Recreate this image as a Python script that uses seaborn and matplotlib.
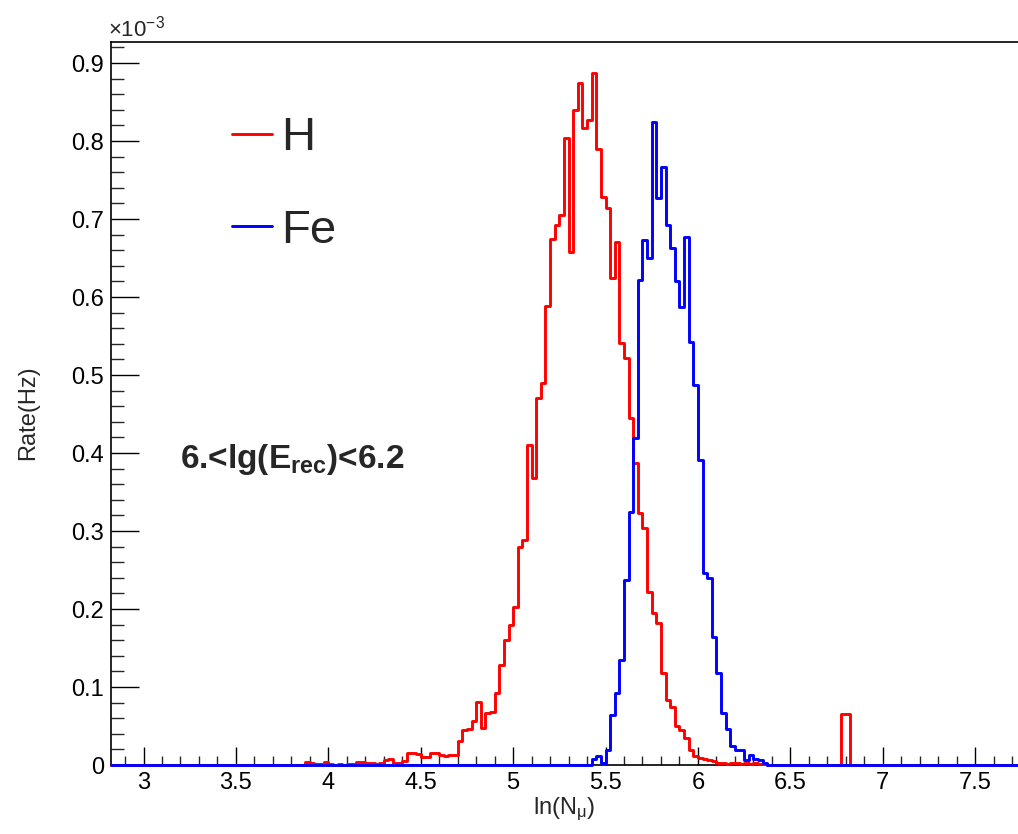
import numpy as np
import pandas as pd
import matplotlib
matplotlib.use("Agg")
import matplotlib.pyplot as plt
import seaborn as sns
from matplotlib.ticker import MultipleLocator, FuncFormatter

# ---------------- data (rates in units of 1e-3 Hz, bins of 0.025 in ln(N_mu)) ----------------
bin_width = 0.025
hist_lo, hist_hi = 2.825, 7.775

h_first_bin = 3.875
h_rates = [
    0.004, 0.003, 0.001, 0.001, 0.004, 0.001, 0.000, 0.001, 0.000, 0.001,   # 3.875 -
    0.001, 0.004, 0.004, 0.003, 0.002, 0.001, 0.002, 0.006, 0.008, 0.002,   # 4.125 -
    0.003, 0.005, 0.015, 0.015, 0.014, 0.010, 0.010, 0.016, 0.016, 0.013,   # 4.375 -
    0.012, 0.013, 0.013, 0.031, 0.045, 0.046, 0.056, 0.081, 0.048, 0.067,   # 4.625 -
    0.068, 0.092, 0.128, 0.160, 0.179, 0.203, 0.280, 0.288, 0.410, 0.368,   # 4.875 -
    0.470, 0.490, 0.588, 0.675, 0.692, 0.705, 0.804, 0.658, 0.840, 0.874,   # 5.125 -
    0.817, 0.827, 0.887, 0.790, 0.728, 0.714, 0.624, 0.670, 0.541, 0.522,   # 5.375 -
    0.445, 0.387, 0.323, 0.304, 0.222, 0.195, 0.182, 0.118, 0.083, 0.075,   # 5.625 -
    0.050, 0.045, 0.034, 0.019, 0.012, 0.009, 0.008, 0.006, 0.005, 0.002,   # 5.875 -
    0.002, 0.001, 0.002, 0.002, 0.001, 0.002, 0.001, 0.002, 0.001, 0.001,   # 6.125 -
    0.000, 0.000, 0.000, 0.000, 0.000, 0.000, 0.000, 0.000, 0.000, 0.000,   # 6.375 -
    0.000, 0.000, 0.000, 0.000, 0.000, 0.000, 0.066, 0.066,                 # 6.625 -
]

fe_first_bin = 5.425
fe_rates = [
    0.008, 0.011, 0.003, 0.019, 0.064, 0.092, 0.135, 0.237, 0.324, 0.419,   # 5.425 -
    0.622, 0.673, 0.650, 0.824, 0.727, 0.767, 0.692, 0.663, 0.620, 0.587,   # 5.675 -
    0.677, 0.542, 0.487, 0.391, 0.246, 0.240, 0.164, 0.118, 0.067, 0.046,   # 5.925 -
    0.025, 0.019, 0.019, 0.006, 0.013, 0.008, 0.006, 0.003,                 # 6.175 -
]

series_names = ["H", "Fe"]
series_colors = ["#ff0000", "#0000ff"]
x_ticks = [3, 3.5, 4, 4.5, 5, 5.5, 6, 6.5, 7, 7.5]
y_ticks = [0, 0.1, 0.2, 0.3, 0.4, 0.5, 0.6, 0.7, 0.8, 0.9]

# ---------------- build tables ----------------
def to_frame(first, rates, name):
    centers = first + bin_width * (np.arange(len(rates)) + 0.5)
    return pd.DataFrame({"lnNmu": centers, "rate": rates, "species": name})

df = pd.concat([to_frame(h_first_bin, h_rates, "H"),
                to_frame(fe_first_bin, fe_rates, "Fe")], ignore_index=True)
n_bins = int(round((hist_hi - hist_lo) / bin_width))
edges = np.linspace(hist_lo, hist_hi, n_bins + 1).tolist()

# ---------------- style ----------------
sns.set_style("white")
plt.rcParams["font.family"] = ["Liberation Sans", "DejaVu Sans"]
plt.rcParams["mathtext.fontset"] = "custom"
plt.rcParams["mathtext.rm"] = "Liberation Sans"
plt.rcParams["mathtext.it"] = "Liberation Sans:italic"
plt.rcParams["mathtext.bf"] = "Liberation Sans:bold"

fig = plt.figure(figsize=(10.18, 8.34), dpi=100)
W, H = 1018, 834
ax_l, ax_r, ax_t, ax_b = 111, 1018, 42, 765
ax = fig.add_axes([ax_l / W, 1 - ax_b / H, (ax_r - ax_l) / W, (ax_b - ax_t) / H])

for name, color in zip(series_names, series_colors):
    sub = df[df["species"] == name]
    sns.histplot(data=sub, x="lnNmu", weights="rate", bins=edges,
                 element="step", fill=False, color=color, linewidth=2.1,
                 ax=ax, label=name, clip_on=False, zorder=3)

ax.set_xlim(2.824, 7.732)
ax.set_ylim(0, 0.927)

# spines
for s in ["left", "bottom", "top"]:
    ax.spines[s].set_visible(True)
    ax.spines[s].set_color("black")
    ax.spines[s].set_linewidth(1.2)
ax.spines["right"].set_visible(False)

# ticks
ax.set_xticks(x_ticks)
ax.set_yticks(y_ticks)
ax.xaxis.set_minor_locator(MultipleLocator(0.1))
ax.yaxis.set_minor_locator(MultipleLocator(0.02))
ax.xaxis.set_major_formatter(FuncFormatter(lambda v, p: f"{v:g}"))
ax.yaxis.set_major_formatter(FuncFormatter(lambda v, p: "0" if abs(v) < 1e-9 else f"{v:.1f}"))
ax.tick_params(axis="x", which="major", direction="in", length=13, width=1.0,
               labelsize=17, pad=5, bottom=True, top=False, colors="black")
ax.tick_params(axis="x", which="minor", direction="in", length=6.5, width=1.0,
               bottom=True, top=False)
ax.tick_params(axis="y", which="major", direction="in", length=20, width=1.0,
               labelsize=17, pad=5, left=True, right=False, colors="black")
ax.tick_params(axis="y", which="minor", direction="in", length=9.5, width=1.0,
               left=True, right=False)

ax.set_xlabel(r"ln(N$_{\mathregular{\mu}}$)", fontsize=17, labelpad=1)
ax.set_ylabel("Rate(Hz)", fontsize=17, labelpad=23)
ax.yaxis.label.set_y(0.487)

fig.text(108 / W, 1 - 36 / H, r"$\times$10$^{\mathregular{-3}}$", fontsize=16,
         ha="left", va="baseline")

ax.text(3.198, 0.381, r"6.<lg(E$_{\mathbf{rec}}$)<6.2", fontsize=24,
        fontweight="bold", ha="left", va="baseline")

leg = ax.legend(loc="upper left", bbox_to_anchor=(0.1334, 0.8976), frameon=False,
                fontsize=34, handlelength=0.85, handletextpad=0.18,
                labelspacing=1.03, borderpad=0, borderaxespad=0)
for line in leg.get_lines():
    line.set_linewidth(2.1)

fig.savefig("out.png", dpi=100)
